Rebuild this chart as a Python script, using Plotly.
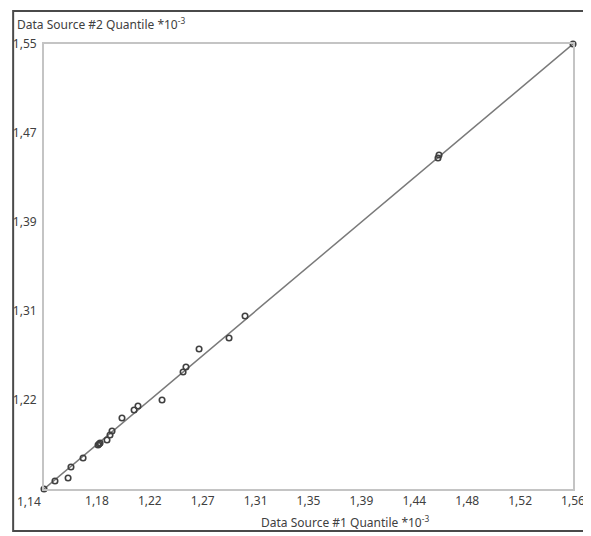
import numpy as np
import plotly.graph_objects as go

# Quantile pairs (x = Data Source #1, y = Data Source #2), units *10^-3
q1 = [1.140, 1.1487, 1.1591, 1.1614, 1.1710, 1.1829, 1.1837, 1.1845, 1.1900, 1.1924,
      1.1940, 1.2019, 1.2115, 1.2146, 1.2337, 1.2504, 1.2527, 1.2631, 1.2869, 1.2996,
      1.4528, 1.4536, 1.5600]
q2 = [1.140, 1.1474, 1.1501, 1.1603, 1.1686, 1.1805, 1.1815, 1.1824, 1.1851, 1.1897,
      1.1934, 1.2054, 1.2128, 1.2165, 1.2220, 1.2478, 1.2524, 1.2690, 1.2791, 1.2994,
      1.4449, 1.4477, 1.5500]

x_ticktext = ["1,18", "1,22", "1,27", "1,31", "1,35", "1,39", "1,44", "1,48", "1,52", "1,56"]
y_ticktext = ["1,22", "1,31", "1,39", "1,47", "1,55"]
x_range = [1.14, 1.56]
y_range = [1.14, 1.55]

x_tickvals = list(np.linspace(x_range[0], x_range[1], len(x_ticktext) + 1)[1:])
y_tickvals = list(np.linspace(y_range[0], y_range[1], len(y_ticktext) + 1)[1:])

txt = "#404040"
font = dict(family="Noto Sans, DejaVu Sans, sans-serif", size=12, color=txt)

fig = go.Figure()
fig.add_trace(go.Scatter(
    x=[min(q1), max(q1)], y=[min(q2), max(q2)], mode="lines",
    line=dict(color="#7a7a7a", width=1.5), hoverinfo="skip", showlegend=False))
fig.add_trace(go.Scatter(
    x=q1, y=q2, mode="markers",
    marker=dict(symbol="circle-open", size=5.5, color="#404040", line=dict(width=1.6)),
    showlegend=False, cliponaxis=False))

axis_common = dict(showgrid=False, zeroline=False, showline=True, mirror=True,
                   linecolor="#c4c4c4", linewidth=2, ticks="", tickfont=font,
                   automargin=False)

fig.update_layout(
    width=583, height=528, autosize=False,
    margin=dict(l=4, r=4, t=1, b=5, autoexpand=False),
    paper_bgcolor="white", plot_bgcolor="white",
    font=font,
    xaxis=dict(range=x_range, tickvals=x_tickvals, ticktext=x_ticktext,
               domain=[0.0557, 0.9757], ticklabelstandoff=0, **axis_common),
    yaxis=dict(range=y_range, tickvals=y_tickvals, ticktext=y_ticktext,
               domain=[0.0805, 0.9330], ticklabelstandoff=3, **axis_common),
    shapes=[dict(type="rect", xref="paper", yref="paper",
                 x0=0.002, x1=1, y0=0, y1=0.996,
                 line=dict(color="#4a4a4a", width=2), layer="above")],
    annotations=[
        dict(text="Data Source #2 Quantile *10<sup>-3</sup>", xref="paper", yref="paper",
             x=0.0052, y=0.9713, xanchor="left", yanchor="middle", showarrow=False, font=font),
        dict(text="Data Source #1 Quantile *10<sup>-3</sup>", xref="paper", yref="paper",
             x=0.5791, y=0.0172, xanchor="center", yanchor="middle", showarrow=False, font=font),
        dict(text="1,14", xref="paper", yref="paper",
             x=0.0296, y=0.0556, xanchor="center", yanchor="middle", showarrow=False, font=font),
    ],
)

fig.write_html("out.html", config={"displayModeBar": False, "responsive": False})
